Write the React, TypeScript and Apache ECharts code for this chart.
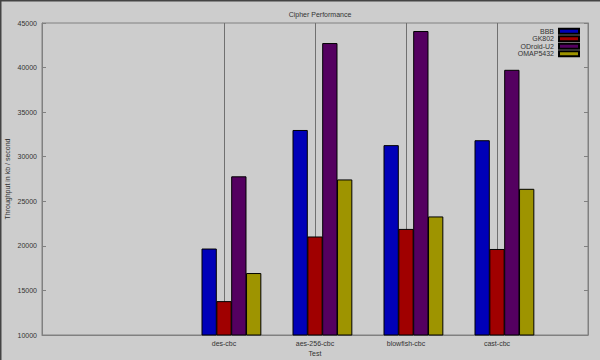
import React, { useEffect, useRef } from "react";
import * as echarts from "echarts";

const categories = ["", " ", "des-cbc", "aes-256-cbc", "blowfish-cbc", "cast-cbc", "  "];
const seriesNames = ["BBB", "GK802", "ODroid-U2", "OMAP5432"];
const bbb = [19700, 33000, 31300, 31850];
const gk802 = [13800, 21050, 21900, 19650];
const odroid = [27800, 42750, 44100, 39750];
const omap = [16950, 27450, 23300, 26400];
const colors = ["#0000b8", "#a00000", "#540060", "#9e9400"];
const yMin = 10000;
const yMax = 45000;
const yStep = 5000;

const pad = (arr: number[]) => [null, null, ...arr, null];

export default function App() {
  const ref = useRef<HTMLDivElement>(null);
  useEffect(() => {
    if (!ref.current) return;
    const chart = echarts.init(ref.current, undefined, { renderer: "svg" });
    const font = "Liberation Sans";
    const values = [bbb, gk802, odroid, omap];
    const series: any[] = [
      {
        name: "__spacer",
        type: "bar",
        data: categories.map(() => null),
        barWidth: 15.3,
        barGap: "-3%",
        silent: true,
      },
      ...seriesNames.map((n, i) => ({
        name: n,
        type: "bar",
        data: pad(values[i]),
        barWidth: 15.3,
        barGap: "-3%",
        itemStyle: { color: colors[i], borderColor: "#000", borderWidth: 1 },
      })),
    ];
    chart.setOption({
      animation: false,
      backgroundColor: "#cdcdcd",
      textStyle: { fontFamily: font },
      title: {
        text: "Cipher Performance",
        left: 315,
        top: 6,
        textAlign: "center",
        textStyle: { fontSize: 7, fontWeight: "normal", color: "#333", fontFamily: font },
      },
      legend: {
        data: seriesNames,
        orient: "vertical",
        right: 20,
        top: 27.5,
        padding: 0,
        align: "right",
        itemWidth: 20,
        itemHeight: 5,
        itemGap: 0,
        icon: "rect",
        textStyle: { fontSize: 7, lineHeight: 7.5, color: "#333", fontFamily: font },
      },
      grid: {
        left: 42,
        right: 12,
        top: 23,
        bottom: 25,
        containLabel: false,
        outerBoundsMode: "none",
        show: true,
        borderColor: "#808080",
        borderWidth: 1,
        backgroundColor: "transparent",
      },
      xAxis: {
        type: "category",
        data: categories,
        boundaryGap: false,
        name: "Test",
        nameLocation: "middle",
        nameGap: 15,
        nameMoveOverlap: false,
        nameTextStyle: { fontSize: 7, color: "#333", fontFamily: font },
        axisLine: { show: true, lineStyle: { color: "#808080" } },
        axisTick: { show: false },
        axisLabel: { fontSize: 7, color: "#333", margin: 5, interval: 0, fontFamily: font },
        splitLine: {
          show: true,
          interval: (index: number) => index >= 2 && index <= 5,
          lineStyle: { color: "#707070", width: 1 },
        },
      },
      yAxis: [
        {
          type: "value",
          min: yMin,
          max: yMax,
          interval: yStep,
          name: "Throughput in kb / second",
          nameLocation: "middle",
          nameGap: 31,
          nameMoveOverlap: false,
          nameTextStyle: { fontSize: 7, color: "#333", fontFamily: font },
          axisLine: { show: true, lineStyle: { color: "#808080" } },
          axisTick: { show: true, inside: true, length: 4, lineStyle: { color: "#808080" } },
          axisLabel: {
            fontSize: 7,
            color: "#333",
            margin: 5,
            fontFamily: font,
            formatter: (v: number) => String(v),
          },
          splitLine: { show: false },
        },
        {
          type: "value",
          min: yMin,
          max: yMax,
          interval: yStep,
          position: "right",
          axisLine: { show: true, lineStyle: { color: "#808080" } },
          axisTick: { show: true, inside: true, length: 4, lineStyle: { color: "#808080" } },
          axisLabel: { show: false },
          splitLine: { show: false },
        },
      ],
      graphic: [
        { type: "rect", shape: { x: 0, y: 0, width: 600, height: 1.5 }, style: { fill: "#444" }, silent: true },
        { type: "rect", shape: { x: 0, y: 0, width: 1.5, height: 360 }, style: { fill: "#444" }, silent: true },
      ],
      series,
    });
    return () => chart.dispose();
  }, []);
  return (
    <div
      ref={ref}
      style={{ position: "fixed", left: 0, top: 0, width: 600, height: 360 }}
    />
  );
}
